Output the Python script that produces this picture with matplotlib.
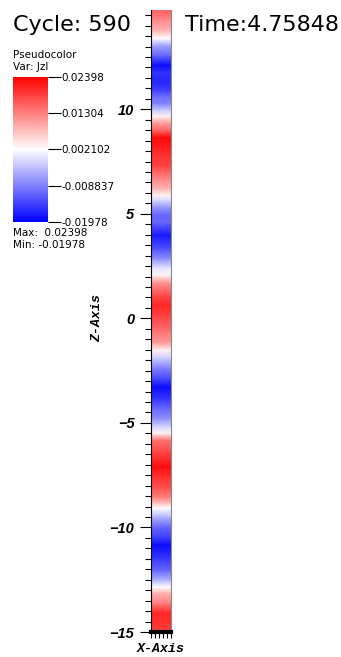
import numpy as np
import matplotlib
matplotlib.use("Agg")
import matplotlib.pyplot as plt

# Jz profile along the z axis (values in units of 1e-3)
z_pos = [14.75, 14.49, 14.25, 13.77, 13.39, 13.06, 12.58, 12.10, 11.77, 11.29,
         10.91, 10.57, 10.29, 9.95, 9.67, 9.38, 9.00, 8.66, 8.28, 7.80,
         7.32, 6.99, 6.61, 6.22, 5.89, 5.65, 5.32, 4.94, 4.60, 3.98,
         3.36, 2.88, 2.40, 2.07, 1.73, 1.11, 0.63, 0.15, -0.47, -1.14,
         -1.52, -1.90, -2.38, -2.86, -3.29, -3.81, -4.29, -4.77, -5.20, -5.49,
         -5.82, -6.30, -6.78, -7.11, -7.59, -8.07, -8.55, -8.83, -9.07, -9.50,
         -9.98, -10.46, -10.84, -11.41, -12.04, -12.51, -12.85, -13.14, -13.61, -14.09,
         -14.57, -15.0]
jz_milli = [15.2, 14.1, 11.9, 8.7, 2.1, -5.6, -11.0, -18.7, -15.4, -16.5,
            -14.3, -9.9, -8.8, -2.3, 3.2, 9.8, 15.2, 22.9, 21.8, 19.6,
            18.5, 15.2, 11.9, 8.7, 3.2, -1.2, -6.7, -11.0, -11.0, -17.6,
            -13.2, -7.7, -0.1, 3.2, 10.9, 17.4, 20.7, 18.5, 15.2, 10.9,
            3.2, -2.3, -8.8, -13.2, -18.7, -15.4, -11.0, -7.7, -1.2, 3.2,
            14.1, 17.4, 20.7, 22.9, 19.6, 17.4, 13.0, 7.6, 2.1, -4.5,
            -11.0, -14.3, -18.7, -15.4, -11.0, -4.5, 2.1, 8.7, 13.0, 20.7,
            19.6, 18.5]

jz_max = 23.98
jz_min = -19.78
cbar_ticks = [23.98, 13.04, 2.102, -8.837, -19.78]
cbar_labels = ["0.02398", "0.01304", "0.002102", "-0.008837", "-0.01978"]
z_ticks = [-15, -10, -5, 0, 5, 10]

cycle = 590
time_val = "4.75848"

fig = plt.figure(figsize=(3.41, 6.57), dpi=100)

ax = fig.add_axes([151/341, 1-632/657, 20/341, 622/657])
z = np.array(z_pos)[::-1]
c = np.array(jz_milli)[::-1]
X, Z = np.meshgrid([0.0, 1.0], z)
C = np.column_stack([c, c])
mesh = ax.pcolormesh(X, Z, C, shading='gouraud', cmap='bwr', vmin=jz_min, vmax=jz_max)
ax.set_xlim(0, 1)
ax.set_ylim(-15, 14.75)

ax.set_yticks(z_ticks)
ax.set_yticklabels([str(t).replace('-', '\u2212') for t in z_ticks],
                   fontfamily='Liberation Sans', fontweight='bold', fontstyle='italic', fontsize=10.5)
ax.set_yticks(np.arange(-15, 15, 0.5), minor=True)
ax.tick_params(axis='y', which='major', direction='out', length=8, width=0.8, pad=4)
ax.tick_params(axis='y', which='minor', direction='out', length=4, width=0.8)
ax.set_xticks([0.0, 0.2, 0.4, 0.6, 0.8, 1.0])
ax.set_xticklabels([])
ax.tick_params(axis='x', which='major', direction='out', length=4, width=0.8)
ax.spines['top'].set_visible(False)
ax.spines['right'].set_color('#888888')
ax.spines['bottom'].set_linewidth(3)

fig.text(97/341, 1-318/657, "Z-Axis", rotation=90, ha='center', va='center',
         fontfamily='Liberation Mono', fontweight='bold', fontstyle='italic', fontsize=9.5)
fig.text(161/341, 1-649/657, "X-Axis", ha='center', va='center',
         fontfamily='Liberation Mono', fontweight='bold', fontstyle='italic', fontsize=9.5)

fig.text(13/341, 1-25/657, "Cycle: %d" % cycle, ha='left', va='center', fontsize=16)
fig.text(185/341, 1-25/657, "Time:" + time_val, ha='left', va='center', fontsize=16)

# legend
fig.text(13/341, 1-55/657, "Pseudocolor", ha='left', va='center', fontsize=7.5)
fig.text(13/341, 1-67/657, "Var: Jzl", ha='left', va='center', fontsize=7.5)
cax = fig.add_axes([13/341, 1-222/657, 35/341, 145/657])
cb = fig.colorbar(mesh, cax=cax, ticks=cbar_ticks)
cb.outline.set_visible(False)
cb.ax.set_yticklabels(cbar_labels, fontsize=7.5)
cb.ax.tick_params(length=9, width=0.8, pad=0.5)
fig.text(13/341, 1-233/657, "Max:  0.02398", ha='left', va='center', fontsize=7.5)
fig.text(13/341, 1-245/657, "Min: -0.01978", ha='left', va='center', fontsize=7.5)

fig.savefig("out.png", dpi=100)
